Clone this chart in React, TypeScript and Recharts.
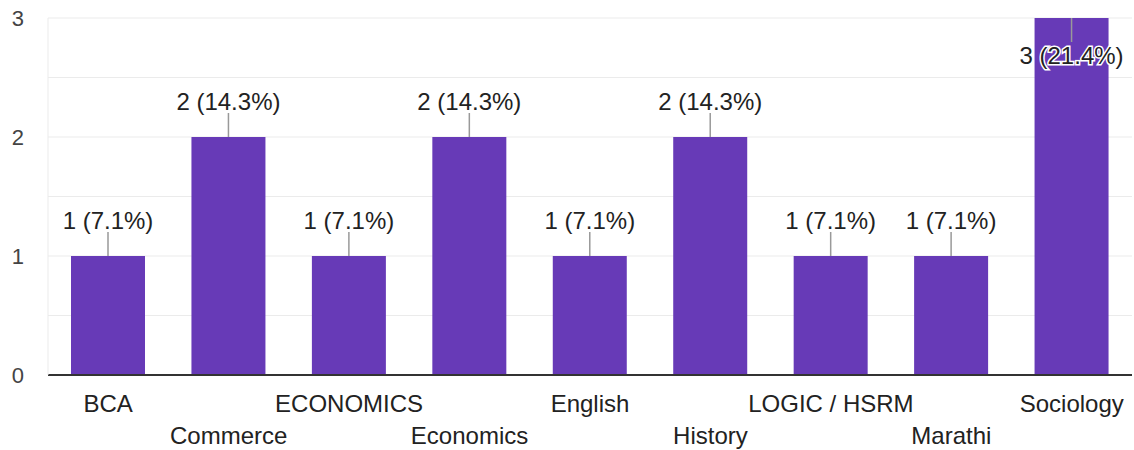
import React from 'react';
import { BarChart, Bar, XAxis, YAxis, CartesianGrid, LabelList } from 'recharts';

const subjects = ['BCA', 'Commerce', 'ECONOMICS', 'Economics', 'English', 'History', 'LOGIC / HSRM', 'Marathi', 'Sociology'];
const counts = [1, 2, 1, 2, 1, 2, 1, 1, 3];
const yTicks = [0, 1, 2, 3];
const gridValues = [0.5, 1, 1.5, 2, 2.5, 3];

const total = counts.reduce((a, b) => a + b, 0);
const maxCount = Math.max(...counts);
const data = subjects.map((name, i) => ({ name, count: counts[i] }));

const FONT = 'Arial, "Liberation Sans", sans-serif';

const CategoryTick = ({ x, y, payload, index }: any) => (
  <text
    x={x}
    y={y + (index % 2 === 1 ? 60 : 28)}
    textAnchor="middle"
    dominantBaseline="central"
    fontFamily={FONT}
    fontSize={24}
    fill="#222"
  >
    {payload.value}
  </text>
);

const ValueTick = ({ x, y, payload }: any) => (
  <text x={x} y={y} textAnchor="end" dominantBaseline="central" fontFamily={FONT} fontSize={22} fill="#444">
    {payload.value}
  </text>
);

const BarLabel = (props: any) => {
  const { x, y, width, value } = props;
  const cx = x + width / 2;
  const text = `${value} (${((value / total) * 100).toFixed(1)}%)`;
  const inside = value === maxCount;
  const lineEnd = inside ? y + 24 : y - 24;
  const textY = inside ? y + 37 : y - 36;
  return (
    <g>
      <line x1={cx} x2={cx} y1={y} y2={lineEnd} stroke="#999" strokeWidth={1.5} />
      <text
        x={cx}
        y={textY}
        textAnchor="middle"
        dominantBaseline="central"
        fontFamily={FONT}
        fontSize={24}
        fill="#222"
        stroke={inside ? '#fff' : 'none'}
        strokeWidth={inside ? 3 : 0}
        paintOrder="stroke"
      >
        {text}
      </text>
    </g>
  );
};

export default function App() {
  return (
    <div style={{ position: 'absolute', left: 0, top: 0, width: 1134, height: 450, background: '#fff' }}>
      <BarChart width={1134} height={450} data={data} margin={{ top: 18, right: 2, bottom: 0, left: 0 }}>
        <CartesianGrid vertical={false} stroke="#ebebeb" horizontalValues={gridValues} />
        <XAxis
          dataKey="name"
          interval={0}
          height={75}
          tickLine={false}
          tickSize={0}
          tickMargin={0}
          axisLine={{ stroke: '#333', strokeWidth: 2 }}
          tick={<CategoryTick />}
        />
        <YAxis
          width={48}
          domain={[0, 3]}
          ticks={yTicks}
          tickLine={false}
          tickSize={0}
          tickMargin={24}
          axisLine={{ stroke: '#ebebeb' }}
          tick={<ValueTick />}
        />
        <Bar dataKey="count" fill="#673ab7" barSize={74} isAnimationActive={false}>
          <LabelList dataKey="count" content={<BarLabel />} />
        </Bar>
      </BarChart>
    </div>
  );
}
